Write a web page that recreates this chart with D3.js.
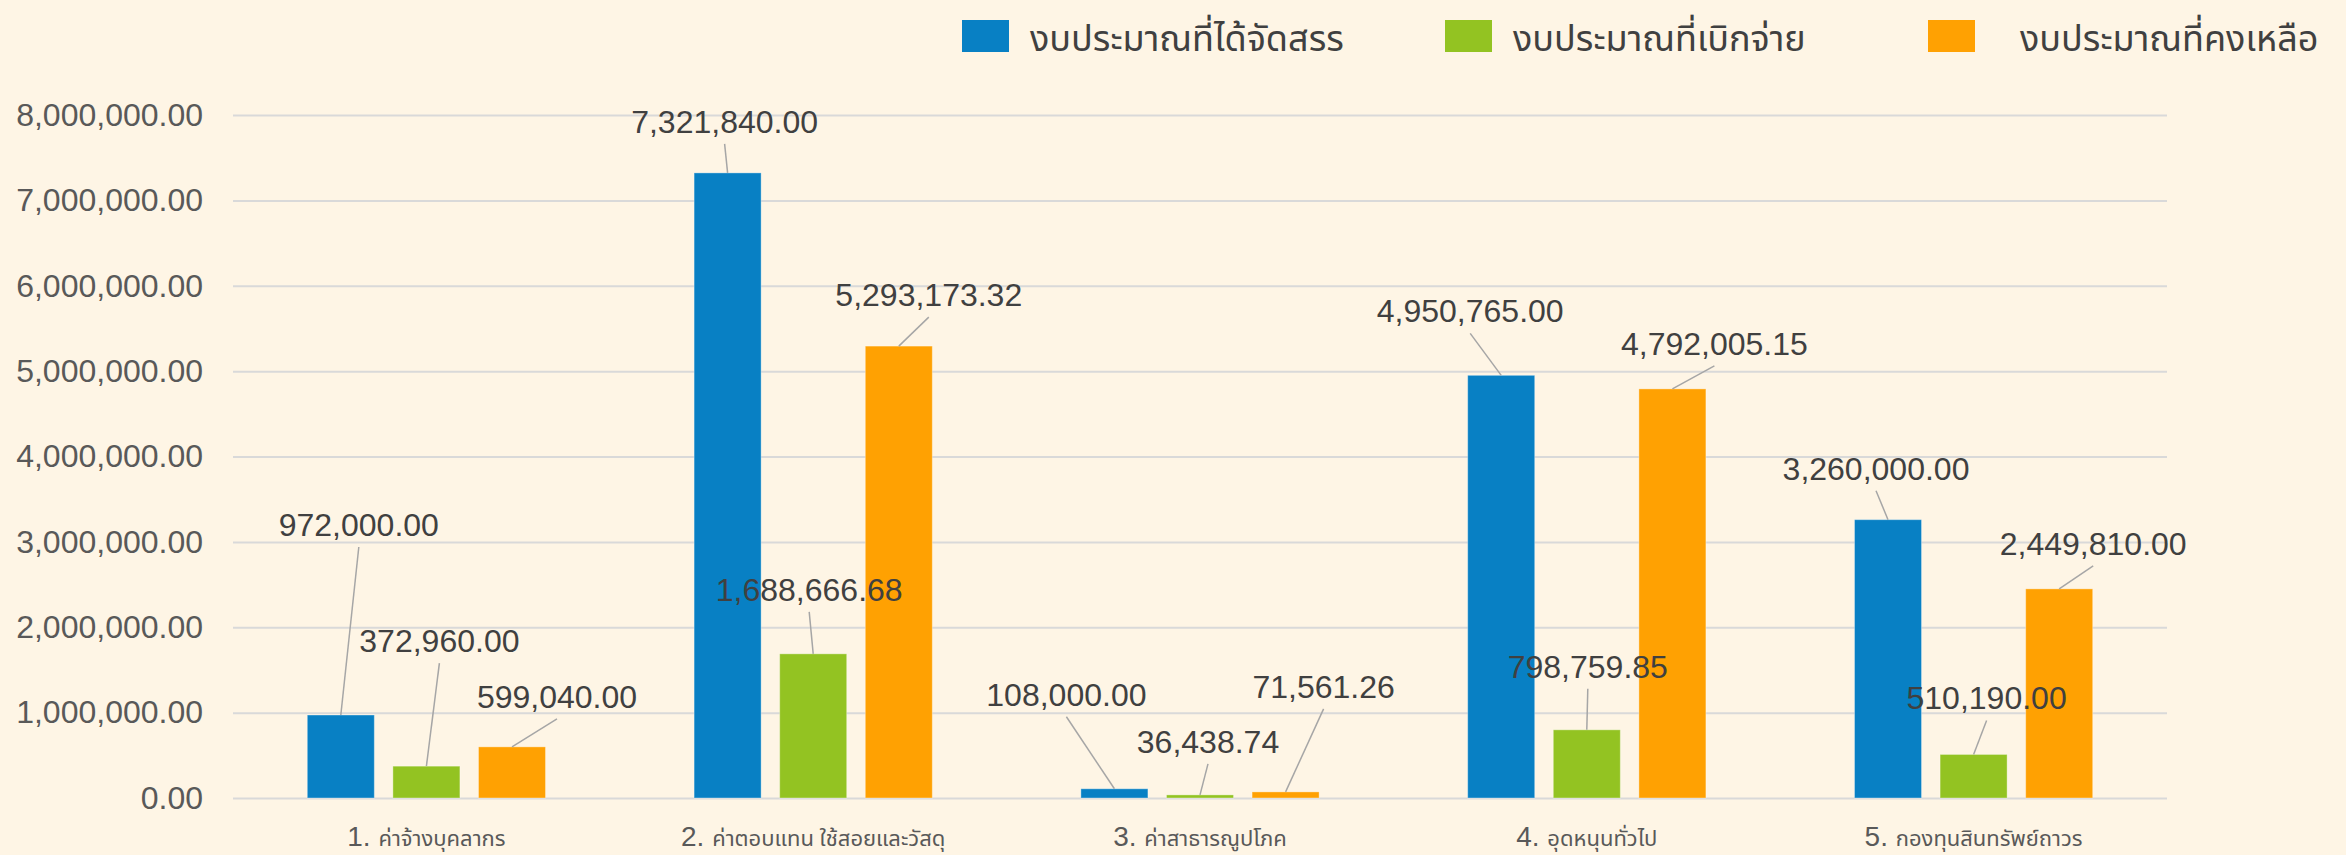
<!DOCTYPE html>
<html>
<head>
<meta charset="utf-8">
<script src="https://cdn.jsdelivr.net/npm/d3@7"></script>
<style>
    html, body { margin: 0; padding: 0; background: #fef5e5; }
    svg { display: block; }
    .tick-text { font-family: "Liberation Sans", Arial, sans-serif; font-size: 32px; fill: #595959; }
    .value-text { font-family: "Liberation Sans", Arial, sans-serif; font-size: 32px; fill: #404040; }
    .thai { font-family: "Noto Sans Thai", "Noto Sans Thai UI", "Noto Serif Thai", "DejaVu Sans", sans-serif; }
</style>
</head>
<body>
<div id="chart-div"></div>
<script>
// chart values
const categories = [
    "1. ค่าจ้างบุคลากร",
    "2. ค่าตอบแทน ใช้สอยและวัสดุ",
    "3. ค่าสาธารณูปโภค",
    "4. อุดหนุนทั่วไป",
    "5. กองทุนสินทรัพย์ถาวร"
];
const seriesNames = ["งบประมาณที่ได้จัดสรร", "งบประมาณที่เบิกจ่าย", "งบประมาณที่คงเหลือ"];
const allocated = [972000, 7321840, 108000, 4950765, 3260000];
const disbursed = [372960, 1688666.68, 36438.74, 798759.85, 510190];
const remaining = [599040, 5293173.32, 71561.26, 4792005.15, 2449810];
const yTicks = [0, 1000000, 2000000, 3000000, 4000000, 5000000, 6000000, 7000000, 8000000];

const colors = ["#0880c4", "#93c322", "#ffa102"];

// where each value label sits, relative to the top of its bar (px)
const labelOffsets = [
    [[18, -179], [-3, -40], [-48, -83], [-31, -53], [-12, -40]],
    [[13, -114], [-4, -53], [8, -42], [1, -52], [13, -45]],
    [[45, -39], [30, -40], [38, -94], [42, -34], [34, -34]]
];

const width = 2346;
const height = 855;
const fmt = d3.format(",.2f");

const seriesValues = [allocated, disbursed, remaining];

const svg = d3.select("#chart-div")
    .append("svg")
    .attr("width", width)
    .attr("height", height);

svg.append("rect")
    .attr("width", width)
    .attr("height", height)
    .attr("fill", "#fef5e5");

const xScale = d3.scaleBand()
    .domain(categories)
    .range([233, 2167]);

const xInner = d3.scaleBand()
    .domain(d3.range(seriesNames.length))
    .range([0, xScale.bandwidth()])
    .paddingInner(0.217)
    .paddingOuter(0.868);

const yScale = d3.scaleLinear()
    .domain([0, 8000000])
    .range([798, 115]);

// grid lines + y labels
const yAxis = svg.append("g")
    .attr("transform", "translate(233,0)")
    .call(d3.axisLeft(yScale)
        .tickValues(yTicks)
        .tickFormat(fmt)
        .tickSize(-(2167 - 233))
        .tickPadding(30));

yAxis.select(".domain").remove();
yAxis.selectAll(".tick line")
    .attr("stroke", "#d9d9d9")
    .attr("stroke-width", 2);
yAxis.selectAll(".tick text")
    .attr("class", "tick-text")
    .attr("font-family", null)
    .attr("font-size", null)
    .attr("fill", null);

const barCx = (s, i) => xScale(categories[i]) + xInner(s) + xInner.bandwidth() / 2;

// bars first, all series
const barLayer = svg.append("g");
const labelLayer = svg.append("g");

seriesValues.forEach(function(values, s) {
    barLayer.append("g").selectAll("rect").data(values).enter().append("rect")
        .attr("x", (d, i) => xScale(categories[i]) + xInner(s))
        .attr("width", xInner.bandwidth())
        .attr("y", d => yScale(d))
        .attr("height", d => yScale(0) - yScale(d))
        .attr("fill", colors[s])
        .attr("stroke", "#ffffff")
        .attr("stroke-opacity", 0.35)
        .attr("stroke-width", 1);
});

// value labels with leader lines, on top of every bar
seriesValues.forEach(function(values, s) {
    const g = labelLayer.append("g");

    g.selectAll("line").data(values).enter().append("line")
        .attr("x1", (d, i) => barCx(s, i) + labelOffsets[s][i][0])
        .attr("y1", (d, i) => yScale(d) + labelOffsets[s][i][1] + 11)
        .attr("x2", (d, i) => barCx(s, i))
        .attr("y2", d => yScale(d))
        .attr("stroke", "#a6a6a6")
        .attr("stroke-width", 1.5);

    g.selectAll("text").data(values).enter().append("text")
        .attr("class", "value-text")
        .attr("text-anchor", "middle")
        .attr("x", (d, i) => barCx(s, i) + labelOffsets[s][i][0])
        .attr("y", (d, i) => yScale(d) + labelOffsets[s][i][1])
        .text(d => fmt(d));
});

// category labels under the axis
const catLabels = svg.selectAll("text.cat").data(categories).enter().append("text")
    .attr("class", "cat")
    .attr("text-anchor", "middle")
    .attr("x", d => xScale(d) + xScale.bandwidth() / 2)
    .attr("y", 846)
    .attr("fill", "#595959");

catLabels.append("tspan")
    .attr("font-family", "Liberation Sans, Arial, sans-serif")
    .attr("font-size", 28)
    .text(d => d.split(" ")[0] + " ");

catLabels.append("tspan")
    .attr("class", "thai")
    .attr("font-size", 22)
    .text(d => d.slice(d.indexOf(" ") + 1));

// legend
const legendX = [962, 1445, 1928];
const legendTextGap = [21, 21, 45];

const legend = svg.selectAll("g.legend").data(seriesNames).enter().append("g")
    .attr("class", "legend")
    .attr("transform", (d, i) => "translate(" + legendX[i] + ",0)");

legend.append("rect")
    .attr("x", 0)
    .attr("y", 20)
    .attr("width", 47)
    .attr("height", 32)
    .attr("fill", (d, i) => colors[i]);

legend.append("text")
    .attr("class", "thai")
    .attr("x", (d, i) => 47 + legendTextGap[i])
    .attr("y", 51)
    .attr("font-size", 36)
    .attr("fill", "#404040")
    .text(d => d);
</script>
</body>
</html>
